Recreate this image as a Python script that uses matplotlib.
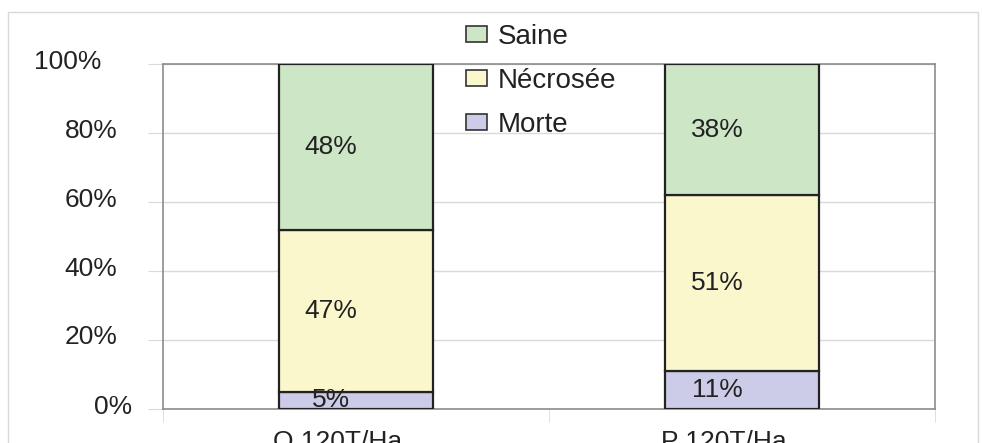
from matplotlib import pyplot as plt
from matplotlib.patches import Rectangle, Patch
from matplotlib.transforms import ScaledTranslation
import numpy as np

plt.rcParams['font.family'] = ['Liberation Sans', 'DejaVu Sans']

categories = ['O 120T/Ha', 'P 120T/Ha']
morte = [5, 11]
necrosee = [47, 51]
saine = [48, 38]
series_names = ['Morte', 'Nécrosée', 'Saine']
colors = ['#cccce8', '#faf7cc', '#cce6c6']

fig = plt.figure(figsize=(9.82, 4.43), dpi=100)
ax = fig.add_axes([163 / 982, 34 / 443, 772 / 982, 345 / 443])

x = np.arange(len(categories))
values = [morte, necrosee, saine]
bottom = np.zeros(len(categories))
for name, vals, col in zip(series_names, values, colors):
    ax.bar(x, vals, 0.4, bottom=bottom, color=col, edgecolor='#222222',
           linewidth=1.6, label=name, zorder=3)
    for xi, b, v in zip(x, bottom, vals):
        ax.text(xi - 0.065, b + v / 2, f'{v}%', ha='center', va='center',
                fontsize=19, color='#222222', zorder=4)
    bottom = bottom + np.array(vals)

ax.set_xlim(-0.5, 1.5)
ax.set_ylim(0, 100)
yt = list(range(0, 101, 20))
ax.set_yticks(yt)
ax.set_yticklabels([f'{v}%' for v in yt], fontsize=19)
ax.grid(axis='y', color='#d9d9d9', linewidth=1.0, zorder=0)
ax.tick_params(axis='y', length=10.8, color='#d9d9d9', pad=22, labelcolor='#222222')

# décalages des étiquettes comme dans l'original (px)
dx_px = {0: 15, 100: -16}
for v, lab in zip(yt, ax.get_yticklabels()):
    off = ScaledTranslation(dx_px.get(v, 0) / 100, 5 / 100, fig.dpi_scale_trans)
    lab.set_transform(lab.get_transform() + off)

ax.set_xticks(x)
ax.set_xticklabels(categories, fontsize=19, color='#222222')
ax.set_xticks([-0.5, 0.5, 1.5], minor=True)
ax.tick_params(axis='x', which='major', length=0, pad=15)
ax.tick_params(axis='x', which='minor', length=9, color='#d9d9d9')
for lab in ax.get_xticklabels():
    lab.set_transform(lab.get_transform() + ScaledTranslation(-0.18, 0, fig.dpi_scale_trans))

for s in ax.spines.values():
    s.set_color('#8c8c8c')
    s.set_linewidth(1.2)

# cadre extérieur
fig.patches.append(Rectangle((8 / 982, -0.1), 970 / 982, 1.1 - 12 / 443,
                             transform=fig.transFigure, fill=False,
                             edgecolor='#d9d9d9', linewidth=1.0))

handles = [Patch(facecolor=c, edgecolor='#333333', linewidth=1.2) for c in colors]
leg = fig.legend(handles[::-1], series_names[::-1], loc='upper left',
                 bbox_to_anchor=(441 / 982, 1 + 1 / 443), frameon=False,
                 fontsize=20, handlelength=0.74, handleheight=0.5,
                 handletextpad=0.42, labelspacing=0.65)
for t in leg.get_texts():
    t.set_color('#222222')

fig.savefig('out.png', dpi=100)
